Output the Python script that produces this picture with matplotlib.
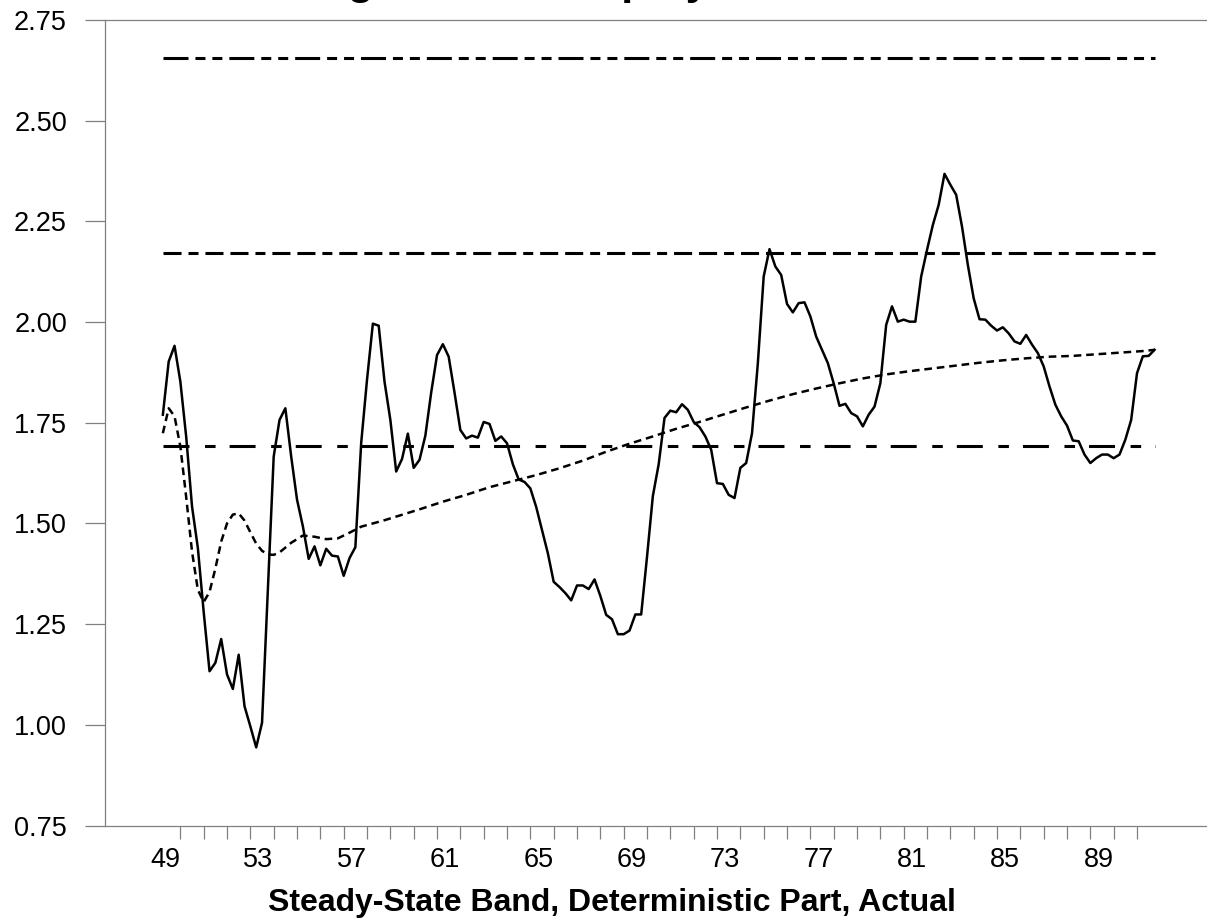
import numpy as np
import pandas as pd
import matplotlib
matplotlib.use("Agg")
import matplotlib.pyplot as plt
from matplotlib.ticker import FormatStrFormatter

plt.rcParams["font.family"] = ["Liberation Sans", "DejaVu Sans"]
plt.rcParams["lines.scale_dashes"] = False

# quarterly series, 1949Q2 - 1991Q4
quarters = pd.period_range("1949Q2", "1991Q4", freq="Q")

actual = [
    1.770, 1.902, 1.941, 1.852, 1.715, 1.542, 1.439, 1.280,
    1.133, 1.154, 1.213, 1.125, 1.089, 1.174, 1.046, 0.996,
    0.944, 1.005, 1.336, 1.666, 1.757, 1.786, 1.666, 1.559,
    1.493, 1.412, 1.443, 1.396, 1.437, 1.420, 1.418, 1.370,
    1.414, 1.441, 1.700, 1.857, 1.996, 1.991, 1.852, 1.757,
    1.629, 1.660, 1.723, 1.638, 1.658, 1.718, 1.825, 1.918,
    1.945, 1.914, 1.825, 1.732, 1.711, 1.718, 1.713, 1.752,
    1.747, 1.705, 1.716, 1.699, 1.647, 1.609, 1.603, 1.587,
    1.541, 1.483, 1.426, 1.355, 1.342, 1.327, 1.309, 1.346,
    1.346, 1.337, 1.361, 1.320, 1.273, 1.262, 1.225, 1.225,
    1.234, 1.274, 1.274, 1.417, 1.568, 1.647, 1.762, 1.780,
    1.776, 1.796, 1.782, 1.752, 1.739, 1.716, 1.683, 1.600,
    1.598, 1.571, 1.563, 1.638, 1.650, 1.724, 1.898, 2.113,
    2.181, 2.138, 2.117, 2.045, 2.024, 2.047, 2.049, 2.014,
    1.964, 1.931, 1.898, 1.848, 1.792, 1.797, 1.774, 1.766,
    1.741, 1.770, 1.790, 1.848, 1.993, 2.039, 2.001, 2.006,
    2.001, 2.001, 2.113, 2.179, 2.241, 2.291, 2.368, 2.341,
    2.316, 2.237, 2.142, 2.059, 2.007, 2.006, 1.991, 1.979,
    1.987, 1.972, 1.952, 1.946, 1.968, 1.944, 1.923, 1.890,
    1.840, 1.795, 1.766, 1.743, 1.706, 1.704, 1.671, 1.650,
    1.662, 1.671, 1.671, 1.662, 1.671, 1.708, 1.757, 1.873,
    1.915, 1.916, 1.931,
]

# deterministic part, taken at these quarter positions
trend_at = [0, 1, 2, 3, 4, 5, 6, 7, 8, 9, 10, 11, 12, 13, 14, 15, 16, 17,
            18, 19, 20, 22, 24, 26, 28, 30, 32, 34, 36, 38, 40, 44, 48, 52,
            56, 60, 64, 68, 72, 76, 80, 84, 88, 92, 96, 100, 104, 108, 112,
            116, 120, 124, 128, 132, 136, 140, 144, 148, 152, 156, 160, 164,
            168, 170]
trend = [1.724, 1.786, 1.766, 1.691, 1.565, 1.430, 1.335, 1.305, 1.330,
         1.388, 1.455, 1.500, 1.522, 1.525, 1.507, 1.478, 1.450, 1.432,
         1.423, 1.422, 1.428, 1.452, 1.470, 1.467, 1.461, 1.463, 1.477,
         1.492, 1.500, 1.508, 1.517, 1.535, 1.554, 1.571, 1.590, 1.605,
         1.620, 1.637, 1.656, 1.678, 1.698, 1.716, 1.735, 1.752, 1.770,
         1.788, 1.805, 1.821, 1.835, 1.848, 1.860, 1.870, 1.878, 1.885,
         1.892, 1.899, 1.905, 1.910, 1.914, 1.916, 1.920, 1.924, 1.928,
         1.931]

# steady-state band: upper, centre, lower
band_levels = [2.655, 2.172, 1.692]
band_dashes = [(18, 5, 7.2, 5, 7.2, 5), (13, 5, 7.2, 5, 13, 5), (18.7, 11.2, 7.6, 10.1)]

year_ticks = list(range(1950, 1992))
label_ticks = [1950, 1954, 1958, 1962, 1966, 1970, 1974, 1978, 1982, 1986, 1990]
tick_labels = ["49", "53", "57", "61", "65", "69", "73", "77", "81", "85", "89"]
y_ticks = [0.75, 1.00, 1.25, 1.50, 1.75, 2.00, 2.25, 2.50, 2.75]

x = np.asarray(quarters.year + (quarters.quarter - 1) / 4, dtype=float)

fig = plt.figure(figsize=(12.07, 9.23), dpi=100)
ax = fig.add_axes([105 / 1207, 1 - 825.5 / 923, 1102 / 1207, 805.5 / 923])

ax.plot(x, actual, color="black", lw=1.8)
ax.plot(x[trend_at], trend, color="black", lw=1.8, dashes=(5.5, 3.5))
for lvl, d in zip(band_levels, band_dashes):
    ax.plot([x[0], x[-1]], [lvl, lvl], color="black", lw=2.2, dashes=d,
            dash_capstyle="butt")

ax.set_xlim(1946.77, 1994.0)
ax.set_ylim(0.75, 2.75)

ax.set_xticks(year_ticks, minor=True)
ax.set_xticks(label_ticks)
ax.set_xticklabels(tick_labels, ha="right")
ax.set_yticks(y_ticks)
ax.yaxis.set_major_formatter(FormatStrFormatter("%.2f"))

grey = "#808080"
ax.tick_params(axis="x", which="both", length=9.4, width=0.9, color=grey,
               pad=5.8, labelsize=19.5)
ax.tick_params(axis="y", length=14.4, width=0.9, color=grey, pad=13,
               labelsize=19.5)
ax.spines["right"].set_visible(False)
for side in ["left", "bottom", "top"]:
    ax.spines[side].set_color(grey)
    ax.spines[side].set_linewidth(0.9)

# title sits above the top edge, only its descenders reach into the page
fig.text(269 / 1207, 1 + 6 / 923, "Long-Term Unemployment", fontsize=31,
         fontweight="bold", ha="left", va="baseline")
fig.text(611.6 / 1207, 1 - 910.5 / 923,
         "Steady-State Band, Deterministic Part, Actual",
         fontsize=23, fontweight="bold", ha="center", va="baseline")

fig.savefig("out.png", dpi=100)
